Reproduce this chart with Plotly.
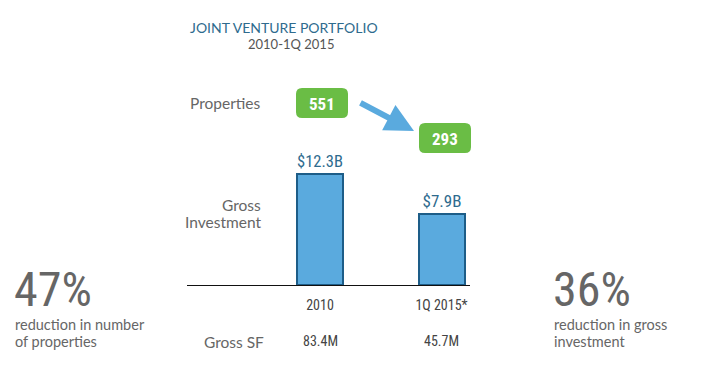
import plotly.graph_objects as go

# ---- data ----
periods = ["2010", "1Q 2015*"]
gross_investment = [12.3, 7.9]          # $B
investment_labels = ["$12.3B", "$7.9B"]
properties = [551, 293]
gross_sf = ["83.4M", "45.7M"]
pct_properties = "47%"
pct_investment = "36%"

W, H = 720, 381
def xp(px): return px / W
def yp(py): return 1 - py / H

# axis geometry (pixels)
x_left, x_right = 187, 470
c0, c1 = 320, 441.5
unit = c1 - c0
y_base, y_top = 285, 75
px_per_b = 111 / 12.3
ymax = (y_base - y_top) / px_per_b

font_body = "Lato, Open Sans, sans-serif"
font_num = "Roboto Condensed, Liberation Sans Narrow, Arial Narrow, Roboto, sans-serif"

fig = go.Figure()
fig.add_trace(go.Bar(
    x=periods, y=gross_investment, width=46 / unit,
    marker=dict(color="#5aaade", line=dict(color="#1d5d88", width=2)),
    text=investment_labels, textposition="outside",
    textfont=dict(family=font_num, size=17, color="#2e6b8e"),
    cliponaxis=False, hoverinfo="skip",
))

fig.update_layout(
    width=W, height=H, margin=dict(l=0, r=0, t=0, b=0),
    paper_bgcolor="white", plot_bgcolor="white", showlegend=False,
    bargap=0,
    xaxis=dict(domain=[xp(x_left), xp(x_right)], type="category",
               range=[-(c0 - x_left) / unit, 1 + (x_right - c1) / unit],
               showline=True, linecolor="#111", linewidth=1, showgrid=False,
               zeroline=False, ticks="", ticklabelstandoff=7,
               tickfont=dict(family=font_num, size=14, color="#444")),
    yaxis=dict(domain=[yp(y_base), yp(y_top)], range=[0, ymax], visible=False),
)

ann = []
def txt(x, y, s, size, color, family=font_body, xanchor="center", align="center"):
    ann.append(dict(x=xp(x), y=yp(y), xref="paper", yref="paper", text=s, showarrow=False,
                    font=dict(family=family, size=size, color=color), xanchor=xanchor,
                    yanchor="middle", align=align))

txt(284, 28, "JOINT VENTURE PORTFOLIO", 14, "#2e6b8e")
txt(291, 44, "2010-1Q 2015", 13, "#555")
txt(263, 103, "Properties", 15.5, "#666", xanchor="right", align="right")
txt(263, 205, "Gross", 15.5, "#666", xanchor="right", align="right")
txt(263, 222, "Investment", 15.5, "#666", xanchor="right", align="right")
txt(202, 342, "Gross SF", 15.5, "#666", xanchor="left", align="left")
for c, s in zip([c0, c1], gross_sf):
    txt(c, 341, s, 14, "#444", family=font_num)
txt(12, 289, pct_properties, 48, "#666", family=font_num, xanchor="left", align="left")
txt(13, 324, "reduction in number", 14.5, "#666", xanchor="left", align="left")
txt(13, 341, "of properties", 14.5, "#666", xanchor="left", align="left")
txt(551, 289, pct_investment, 48, "#666", family=font_num, xanchor="left", align="left")
txt(552, 324, "reduction in gross", 14.5, "#666", xanchor="left", align="left")
txt(552, 341, "investment", 14.5, "#666", xanchor="left", align="left")

# green property boxes
shapes = []
def rrect(x0, y0, x1, y1, r, color):
    X0, X1 = xp(x0), xp(x1); Y0, Y1 = yp(y0), yp(y1)
    rx, ry = r / W, r / H
    path = (f"M{X0+rx},{Y0} L{X1-rx},{Y0} Q{X1},{Y0} {X1},{Y0-ry} L{X1},{Y1+ry} "
            f"Q{X1},{Y1} {X1-rx},{Y1} L{X0+rx},{Y1} Q{X0},{Y1} {X0},{Y1+ry} L{X0},{Y0-ry} Q{X0},{Y0} {X0+rx},{Y0} Z")
    shapes.append(dict(type="path", path=path, xref="paper", yref="paper",
                       fillcolor=color, line=dict(width=0), layer="above"))

boxes = [(296, 88, 348, 118), (419, 123, 471, 153)]
for (bx0, by0, bx1, by1), val in zip(boxes, properties):
    rrect(bx0, by0, bx1, by1, 6, "#6abd45")
    txt((bx0 + bx1) / 2, (by0 + by1) / 2 + 1, f"<b>{val}</b>", 17, "white", family=font_num)

# arrow
ann.append(dict(x=xp(414), y=yp(131), xref="paper", yref="paper", ax=-55, ay=-29,
                axref="pixel", ayref="pixel", text="", showarrow=True,
                arrowhead=2, arrowsize=0.95, arrowwidth=6, arrowcolor="#5aaade"))

fig.update_layout(annotations=ann, shapes=shapes)
fig.write_html("out.html", config={"displayModeBar": False},
               post_script="document.body.style.margin='0';")
